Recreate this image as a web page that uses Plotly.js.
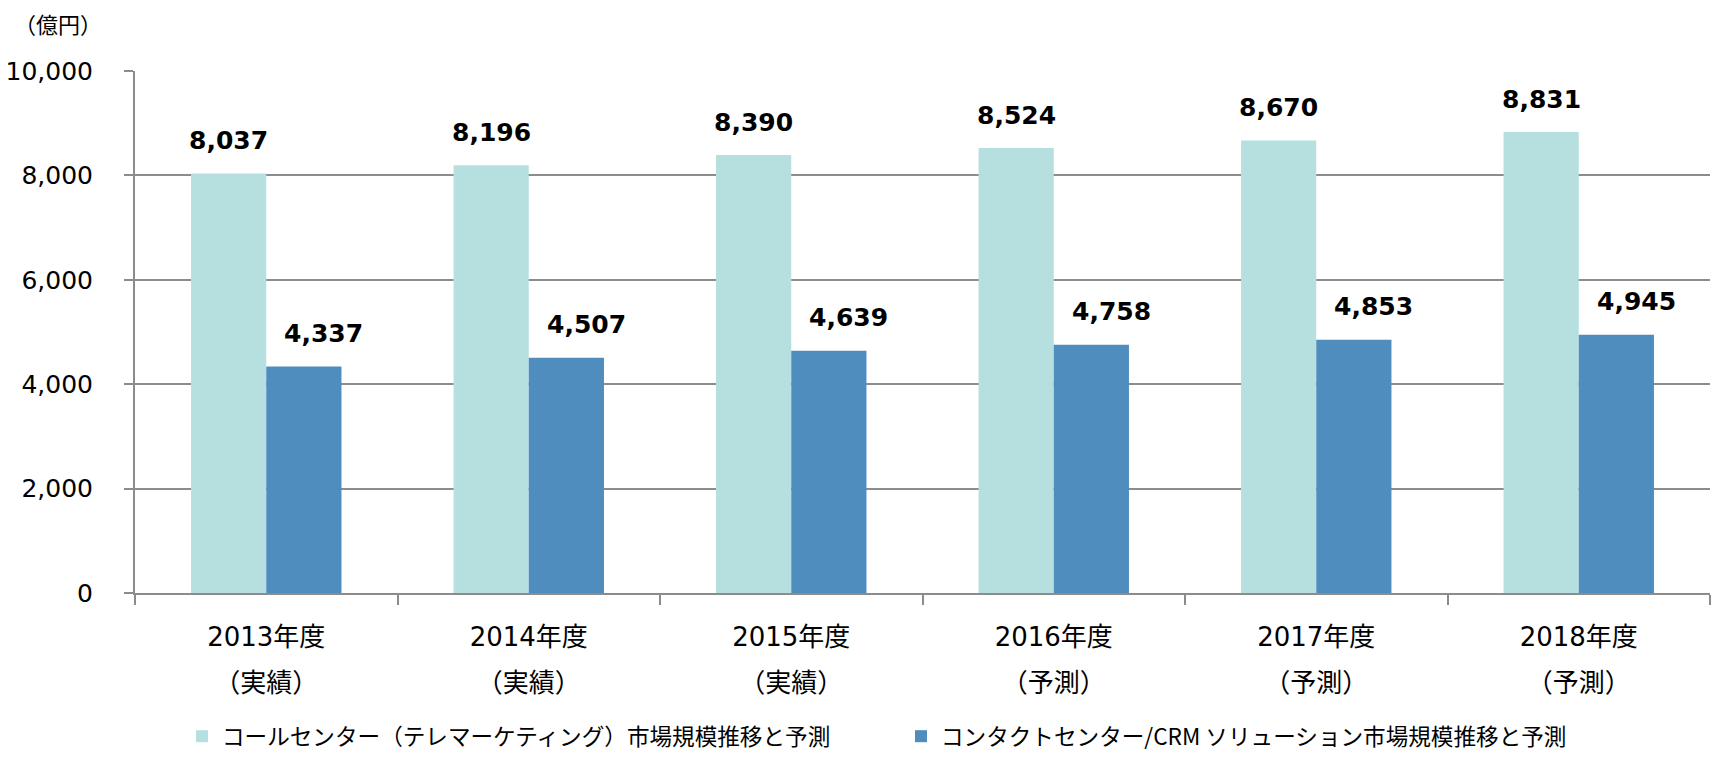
<!DOCTYPE html>
<html><head><meta charset="utf-8">
<script src="https://cdn.plot.ly/plotly-3.0.1.min.js"></script>
<style>html,body{margin:0;padding:0;background:#fff}#chart{width:1712px;height:758px}</style>
</head><body><div id="chart"></div>
<script>
// ---- data ----
const years = ['2013年度','2014年度','2015年度','2016年度','2017年度','2018年度'];
const status = ['（実績）','（実績）','（実績）','（予測）','（予測）','（予測）'];
const callCenter = [8037, 8196, 8390, 8524, 8670, 8831];
const contactCenter = [4337, 4507, 4639, 4758, 4853, 4945];
const seriesNames = ['コールセンター（テレマーケティング）市場規模推移と予測',
                     'コンタクトセンター/CRM ソリューション市場規模推移と予測'];
const yTickVals = [0, 2000, 4000, 6000, 8000, 10000];
const unitLabel = '（億円）';

// ---- styling ----
const W = 1712, H = 758;
const M = {l: 135, r: 2, t: 71, b: 165};
const colors = ['#B6E0DF', '#4F8DBF'];
const gridColor = '#8c8c8c';
const bargap = 0.427;
const labelXShift = [0, 20];   // per-series label nudge (px)
const labelYShift = 33;
const fontLatin = 'DejaVu Sans, Verdana, "Noto Sans CJK JP", sans-serif';
const fontCJK = '"Noto Sans CJK JP", sans-serif';

const fmt = v => v.toLocaleString('en-US');
const tickText = years.map((y, i) =>
  '<span style="font-size:26px">' + y + '</span><br><span style="font-size:26px">' + status[i] + '</span>');

const plotW = W - M.l - M.r;
const plotH = H - M.t - M.b;
const catW = plotW / years.length;
const barW = catW * (1 - bargap) / 2;

const series = [callCenter, contactCenter];
const traces = series.map((vals, s) => ({
  type: 'bar', x: years, y: vals, name: seriesNames[s],
  marker: {color: colors[s], line: {width: 0}},
  hoverinfo: 'x+y'
}));

const annotations = [];
series.forEach((vals, s) => {
  vals.forEach((v, i) => {
    annotations.push({
      x: years[i], y: v, xref: 'x', yref: 'y',
      text: '<b>' + fmt(v) + '</b>', showarrow: false,
      xanchor: 'center', yanchor: 'middle',
      xshift: (s === 0 ? -barW / 2 : barW / 2) + labelXShift[s],
      yshift: labelYShift,
      bgcolor: '#ffffff', borderpad: 3,
      font: {family: fontLatin, size: 25, color: '#000'}
    });
  });
});
annotations.push({
  xref: 'paper', yref: 'paper',
  x: (12 - M.l) / plotW, y: 1 + (M.t - 23) / plotH,
  xanchor: 'left', yanchor: 'middle', showarrow: false,
  text: unitLabel, font: {family: fontCJK, size: 22, color: '#000'}
});

const layout = {
  width: W, height: H,
  margin: M,
  paper_bgcolor: '#fff', plot_bgcolor: '#fff',
  barmode: 'group', bargap: bargap, bargroupgap: 0,
  showlegend: true,
  legend: {
    orientation: 'h', xref: 'container', yref: 'container',
    x: 182 / W, xanchor: 'left', y: -5 / H, yanchor: 'bottom',
    entrywidth: 674, entrywidthmode: 'pixels',
    font: {family: fontCJK, size: 22.6, color: '#000'},
    itemclick: false, itemdoubleclick: false
  },
  xaxis: {
    type: 'category',
    tickvals: years, ticktext: tickText,
    tickfont: {family: fontLatin, size: 35, color: '#000'},
    ticks: 'outside', tickson: 'boundaries', ticklen: 10, tickwidth: 2, tickcolor: gridColor,
    ticklabelstandoff: 9,
    showline: true, linecolor: gridColor, linewidth: 2,
    showgrid: false, zeroline: false, fixedrange: true
  },
  yaxis: {
    range: [0, 10000], tickvals: yTickVals, ticktext: yTickVals.map(fmt),
    tickfont: {family: fontLatin, size: 25, color: '#000'},
    ticks: 'outside', ticklen: 9, tickwidth: 2, tickcolor: gridColor,
    ticklabelstandoff: 26,
    showline: true, linecolor: gridColor, linewidth: 2,
    showgrid: true, gridcolor: gridColor, gridwidth: 2,
    zeroline: false, fixedrange: true
  },
  annotations: annotations
};

Plotly.newPlot('chart', traces, layout, {displayModeBar: false, staticPlot: true});
</script>
</body></html>
